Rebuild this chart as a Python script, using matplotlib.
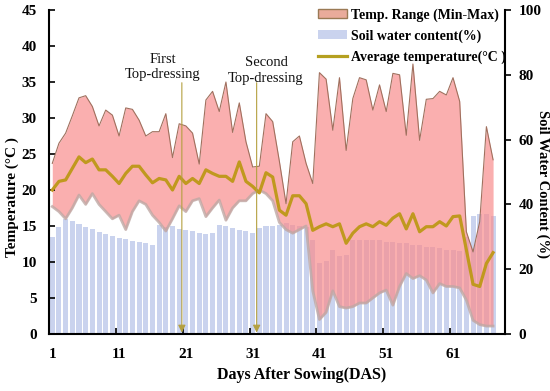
import numpy as np
import matplotlib
matplotlib.use('Agg')
import matplotlib.pyplot as plt
from matplotlib.patches import Patch
from matplotlib.lines import Line2D
from matplotlib.transforms import ScaledTranslation

plt.rcParams['font.family'] = ['Liberation Serif', 'DejaVu Serif']

# Days after sowing
days = np.arange(1, 68)

# Daily max / min / mean air temperature (degC)
t_max = [23.7, 26.5, 27.9, 30.3, 32.8, 33.1, 31.6, 28.9, 31.1, 30.4,
         27.5, 31.4, 31.2, 29.7, 27.5, 28.1, 28.1, 30.6, 24.5, 29.2,
         28.9, 27.9, 23.6, 32.5, 33.7, 30.9, 35.0, 28.0, 32.1, 26.7,
         23.2, 23.3, 30.6, 29.5, 24.0, 18.1, 26.7, 27.5, 23.7, 20.9,
         36.3, 35.4, 28.3, 35.6, 25.5, 32.7, 35.6, 35.3, 31.1, 34.6,
         30.9, 36.2, 36.0, 27.6, 37.5, 26.9, 32.6, 32.7, 33.7, 33.2,
         35.6, 32.3, 14.2, 11.4, 15.6, 28.8, 24.2]
t_min = [17.7, 17.0, 16.0, 17.5, 19.3, 18.0, 19.5, 18.0, 17.0, 16.0,
         16.5, 14.5, 17.0, 18.5, 18.0, 16.5, 15.5, 14.3, 16.0, 17.8,
         17.0, 18.5, 18.8, 16.3, 17.5, 18.6, 15.8, 17.5, 18.5, 18.5,
         19.5, 20.0, 19.5, 18.5, 15.5, 14.5, 14.0, 14.5, 15.0, 6.0,
         2.0, 3.0, 6.0, 3.8, 3.6, 3.8, 4.3, 4.3, 5.0, 5.7,
         6.1, 4.0, 6.6, 8.4, 7.7, 8.1, 7.5, 5.7, 7.0, 6.6,
         6.6, 6.4, 4.7, 1.9, 1.3, 1.1, 1.1]
t_avg = [20.0, 21.2, 21.4, 23.0, 24.6, 23.8, 24.3, 22.8, 22.8, 21.9,
         20.9, 22.3, 23.3, 23.3, 22.1, 21.0, 21.6, 21.4, 20.0, 21.9,
         20.9, 21.6, 20.9, 22.8, 22.3, 21.9, 21.9, 21.2, 23.9, 21.2,
         20.5, 19.6, 22.4, 21.8, 17.2, 16.5, 19.2, 19.2, 18.1, 14.4,
         14.9, 15.3, 14.9, 15.3, 12.6, 14.0, 14.9, 15.3, 14.9, 15.6,
         15.1, 16.1, 16.7, 14.6, 16.7, 14.2, 14.9, 14.9, 15.6, 15.0,
         16.3, 16.4, 11.7, 6.9, 6.6, 9.8, 11.3]

# Soil water content (%)
soil_water = [30.0, 33.0, 35.5, 35.0, 34.0, 33.0, 32.3, 31.5, 31.0, 30.3,
              29.7, 29.2, 28.8, 28.5, 28.0, 27.5, 33.6, 33.0, 33.2, 32.5,
              32.1, 31.8, 31.1, 30.8, 31.1, 33.6, 33.2, 32.7, 32.1, 31.8,
              31.1, 32.7, 33.2, 33.2, 33.6, 34.2, 33.6, 33.2, 33.0, 29.0,
              22.0, 22.5, 26.0, 24.0, 24.5, 29.0, 29.0, 29.0, 29.0, 29.0,
              28.5, 28.5, 28.0, 28.0, 27.5, 27.5, 27.0, 27.0, 26.5, 26.0,
              26.0, 25.5, 30.0, 36.5, 37.0, 37.0, 36.5]

tick_days = [1, 11, 21, 31, 41, 51, 61]
topdress_days = [20.4, 31.6]
topdress_labels = ['First\nTop-dressing', 'Second\nTop-dressing']
topdress_text_x = [17.5, 33.0]
topdress_text_y = [37.1, 36.6]

fig = plt.figure(figsize=(5.5, 3.91), dpi=100)
ax1 = fig.add_axes([0.0896, 0.1458, 0.8284, 0.8286])
ax2 = ax1.twinx()
ax1.set_zorder(ax2.get_zorder() + 1)
ax1.patch.set_visible(False)

# soil water bars (behind)
ax2.bar(days, soil_water, width=0.75, color='#cad3ee', edgecolor='none')
ax2.set_ylim(0, 100)
ax2.set_yticks([0, 20, 40, 60, 80, 100])

# temperature range + mean
ax1.fill_between(days, t_min, t_max, color='#f88d8d', alpha=0.7, linewidth=0)
ax1.plot(days, t_max, color='#a0705e', lw=0.8)
ax1.plot(days, t_min, color='#bfa8a4', lw=2.0, alpha=0.8)
ax1.plot(days, t_avg, color='#c0991e', lw=2.3)

for d, lab, tx, ty in zip(topdress_days, topdress_labels, topdress_text_x, topdress_text_y):
    ax1.annotate('', xy=(d, 0.2), xytext=(d, 34.9),
                 arrowprops=dict(arrowstyle='-|>', color='#b4a040', lw=0.8,
                                 mutation_scale=11, shrinkA=0, shrinkB=0))
    ax1.text(tx, ty, lab, ha='center', va='center', fontsize=10.5,
             linespacing=1.25, color='#111111')

ax1.set_xlim(0.55, 68.77)
ax1.set_ylim(0, 45)
ax1.set_yticks(np.arange(0, 46, 5))
ax1.set_xticks([d - 0.45 for d in tick_days])
ax1.set_xticklabels([str(d) for d in tick_days])

for sp in ['top', 'right']:
    ax1.spines[sp].set_visible(False)
for sp in ['top', 'left', 'bottom']:
    ax2.spines[sp].set_visible(False)
for sp in ['left', 'bottom']:
    ax1.spines[sp].set_linewidth(1.5)
ax2.spines['right'].set_linewidth(1.5)

ax1.tick_params(axis='both', direction='in', length=4, width=1.2, labelsize=11, pad=9)
ax1.tick_params(axis='x', pad=10)
ax2.tick_params(axis='y', direction='out', length=4, width=1.2, labelsize=11, pad=6)
for lab in ax1.get_xticklabels() + ax1.get_yticklabels() + ax2.get_yticklabels():
    lab.set_fontweight('bold')
offset = ScaledTranslation(3 / 100, 0, fig.dpi_scale_trans)
for lab in ax1.get_xticklabels():
    lab.set_transform(lab.get_transform() + offset)

ax1.set_xlabel('Days After Sowing(DAS)', fontsize=11.5, fontweight='bold', va='center')
ax1.xaxis.set_label_coords(0.554, -0.127)
ax1.set_ylabel('Temperature (°C )', fontsize=11, fontweight='bold', va='center')
ax1.yaxis.set_label_coords(-0.082, 0.423)
ax2.set_ylabel('Soil Water Content (%)', fontsize=10.5, fontweight='bold', rotation=270, va='center')
ax2.yaxis.set_label_coords(1.082, 0.463)

handles = [Patch(facecolor='#e9ab9b', edgecolor='#9a7a55', lw=1.0),
           Patch(facecolor='#cad3ee', edgecolor='none'),
           Line2D([0], [0], color='#b5a020', lw=2.3)]
labels = ['Temp. Range (Min-Max)', 'Soil water content(%)', 'Average temperature(°C )']
leg = ax1.legend(handles, labels, loc='upper left', bbox_to_anchor=(0.59, 1.006),
                 frameon=False, borderpad=0, borderaxespad=0, handlelength=2.1,
                 handleheight=0.55, handletextpad=0.3, labelspacing=0.55,
                 prop={'weight': 'bold', 'size': 10})

fig.savefig('out.png', dpi=100)
